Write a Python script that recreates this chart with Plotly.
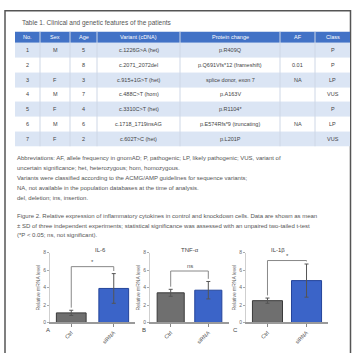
import plotly.graph_objects as go

W, H = 356, 353

# ---------------- table data ----------------
table_header = ["No.", "Sex", "Age", "Variant (cDNA)", "Protein change", "AF", "Class"]
col_no = ["1", "2", "3", "4", "5", "6", "7"]
col_sex = ["M", "", "F", "M", "F", "M", "F"]
col_age = ["5", "8", "3", "7", "4", "6", "2"]
col_variant = ["c.1226G>A (het)", "c.2071_2072del", "c.915+1G>T (het)", "c.488C>T (hom)",
               "c.3310C>T (het)", "c.1718_1719insAG", "c.602T>C (het)"]
col_protein = ["p.R409Q", "p.Q691Vfs*12 (frameshift)", "splice donor, exon 7", "p.A163V",
               "p.R1104*", "p.E574Rfs*9 (truncating)", "p.L201P"]
col_af = ["", "0.01", "NA", "", "", "NA", ""]
col_class = ["P", "P", "LP", "VUS", "P", "LP", "VUS"]
col_widths = [25, 30, 27, 83, 100, 35, 35]

# ---------------- text blocks ----------------
table_title = "Table 1. Clinical and genetic features of the patients"
note_lines = [
    "Abbreviations: AF, allele frequency in gnomAD; P, pathogenic; LP, likely pathogenic; VUS, variant of",
    "uncertain significance; het, heterozygous; hom, homozygous.",
    "Variants were classified according to the ACMG/AMP guidelines for sequence variants;",
    "NA, not available in the population databases at the time of analysis.",
    "del, deletion; ins, insertion.",
]
para_lines = [
    "Figure 2. Relative expression of inflammatory cytokines in control and knockdown cells. Data are shown as mean",
    "± SD of three independent experiments; statistical significance was assessed with an unpaired two-tailed t-test",
    "(*P < 0.05; ns, not significant).",
]

# ---------------- bar chart data ----------------
panel_titles = ["IL-6", "TNF-α", "IL-1β"]
panel_letters = ["A", "B", "C"]
groups = ["Ctrl", "siRNA"]
ctrl_vals = [1.1, 3.4, 2.5]
ctrl_err = [0.3, 0.4, 0.3]
kd_vals = [3.9, 3.7, 4.8]
kd_err = [1.7, 1.0, 1.9]
sig_level = [6.4, 5.9, 7.1]
sig_text = ["*", "ns", "*"]

GRAY = "#6f6f6f"
BLUE = "#3b64c8"
HEAD = "#4272c6"
ROW = "#dbe5f4"
FONT = "Liberation Sans"


def px_x(p):
    return p / W


def px_y(p):
    return 1 - p / H


fig = go.Figure()
annotations = []
shapes = []

# ---------------- table drawn as a heatmap on its own axes ----------------
columns = [col_no, col_sex, col_age, col_variant, col_protein, col_af, col_class]
n_rows = len(col_no)
x_edges = [0]
for w in col_widths:
    x_edges.append(x_edges[-1] + w)
header_h = 0.73
y_edges = [0, header_h] + [header_h + r + 1 for r in range(n_rows)]
z = [[2] * len(columns)] + [[1 if r % 2 == 0 else 0] * len(columns) for r in range(n_rows)]

fig.add_trace(go.Heatmap(
    x=x_edges, y=y_edges, z=z, zmin=0, zmax=2,
    colorscale=[[0, "white"], [0.5, ROW], [1, HEAD]],
    showscale=False, hoverinfo="skip", xaxis="x4", yaxis="y4",
))
fig.layout.xaxis4 = dict(domain=[px_x(15), px_x(350)], range=[0, x_edges[-1]], anchor="y4",
                         visible=False, fixedrange=True)
fig.layout.yaxis4 = dict(domain=[px_y(146), px_y(29)], range=[y_edges[-1], 0], anchor="x4",
                         visible=False, fixedrange=True)

# column separators
for xe in x_edges[1:-1]:
    shapes.append(dict(type="line", xref="x4", yref="y4", x0=xe, x1=xe, y0=0, y1=y_edges[-1],
                       line=dict(color="#ced7e6", width=1)))

# header and cell text
for c, name in enumerate(table_header):
    xc = (x_edges[c] + x_edges[c + 1]) / 2
    annotations.append(dict(x=xc, y=header_h / 2, xref="x4", yref="y4", text=name, showarrow=False,
                            font=dict(family=FONT, size=5.5, color="white")))
    for r, val in enumerate(columns[c]):
        if not val:
            continue
        annotations.append(dict(x=xc, y=(y_edges[r + 1] + y_edges[r + 2]) / 2, xref="x4", yref="y4",
                                text=val, showarrow=False,
                                font=dict(family=FONT, size=5.5, color="#444")))

# ---------------- bar panels ----------------
x_domains = [(50, 135), (150, 229), (246, 328)]
x_ranges = [(-0.5, 1.5), (-0.55, 1.55), (-0.55, 1.55)]
bar_widths = [0.7, 0.72, 0.77]
y_dom = [px_y(325), px_y(254)]

for i in range(3):
    ax = "" if i == 0 else str(i + 1)
    xa, ya = "x" + ax, "y" + ax
    fig.add_trace(go.Bar(
        x=[0, 1], y=[ctrl_vals[i], kd_vals[i]],
        width=bar_widths[i],
        marker=dict(color=[GRAY, BLUE], line=dict(color=["#3a3a3a", "#24449a"], width=1)),
        error_y=dict(type="data", array=[ctrl_err[i], kd_err[i]], color="#555",
                     thickness=1, width=2),
        xaxis=xa, yaxis=ya, showlegend=False,
    ))
    xd = x_domains[i]
    fig.layout["xaxis" + ax] = dict(
        domain=[px_x(xd[0]), px_x(xd[1])], range=list(x_ranges[i]), anchor=ya,
        tickvals=[0, 1], ticktext=groups, tickangle=-45,
        showline=True, linecolor="#9a9a9a", linewidth=2,
        ticks="outside", ticklen=3, tickcolor="#888",
        tickfont=dict(family=FONT, size=5.5, color="#555"),
        showgrid=False, zeroline=False, fixedrange=True,
    )
    fig.layout["yaxis" + ax] = dict(
        domain=y_dom, range=[0, 8], anchor=xa, dtick=2,
        showline=True, linecolor="#cfcfcf", linewidth=1,
        ticks="outside", ticklen=2, tickcolor="#aaa",
        tickfont=dict(family=FONT, size=5, color="#666"),
        title=dict(text="Relative mRNA level", standoff=2,
                   font=dict(family=FONT, size=5, color="#666")),
        showgrid=False, zeroline=False, fixedrange=True,
    )
    # significance bracket
    top0 = ctrl_vals[i] + ctrl_err[i]
    top1 = kd_vals[i] + kd_err[i]
    lv = sig_level[i]
    shapes.append(dict(type="path", xref=xa, yref=ya,
                       path=f"M 0,{top0 + 0.3} L 0,{lv} L 1,{lv} L 1,{top1 + 0.3}",
                       line=dict(color="#888", width=1)))
    annotations.append(dict(x=0.5, y=lv, xref=xa, yref=ya, text=sig_text[i], showarrow=False,
                            yanchor="bottom", font=dict(family=FONT, size=6, color="#555")))
    # panel title and letter
    annotations.append(dict(x=(xd[0] + xd[1]) / 2 / W, y=px_y(251), xref="paper", yref="paper",
                            text=panel_titles[i], showarrow=False, yanchor="middle",
                            font=dict(family=FONT, size=6, color="#444")))
    annotations.append(dict(x=px_x(xd[0] - 6), y=px_y(338), xref="paper", yref="paper",
                            text=panel_letters[i], showarrow=False,
                            font=dict(family=FONT, size=6, color="#444")))

# ---------------- table title, notes and paragraph ----------------
annotations.append(dict(x=px_x(20), y=px_y(20), xref="paper", yref="paper", text=table_title,
                        showarrow=False, xanchor="left", yanchor="middle",
                        font=dict(family=FONT, size=6.5, color="#555")))
for k, line in enumerate(note_lines):
    annotations.append(dict(x=px_x(15), y=px_y(158 + 10 * k), xref="paper", yref="paper", text=line,
                            showarrow=False, xanchor="left", yanchor="middle",
                            font=dict(family=FONT, size=6, color="#555")))
for k, line in enumerate(para_lines):
    annotations.append(dict(x=px_x(15), y=px_y(217 + 9.5 * k), xref="paper", yref="paper", text=line,
                            showarrow=False, xanchor="left", yanchor="middle",
                            font=dict(family=FONT, size=6, color="#555")))

# page frame
shapes.append(dict(type="rect", xref="paper", yref="paper", x0=px_x(5), x1=px_x(350.5),
                   y0=-0.1, y1=px_y(8), line=dict(color="#555", width=1.5), layer="below"))

fig.update_layout(
    width=W, height=H, margin=dict(l=0, r=0, t=0, b=0),
    paper_bgcolor="white", plot_bgcolor="white",
    bargap=0.3, annotations=annotations, shapes=shapes,
    font=dict(family=FONT),
)

fig.write_html("out.html", config={"displayModeBar": False})
